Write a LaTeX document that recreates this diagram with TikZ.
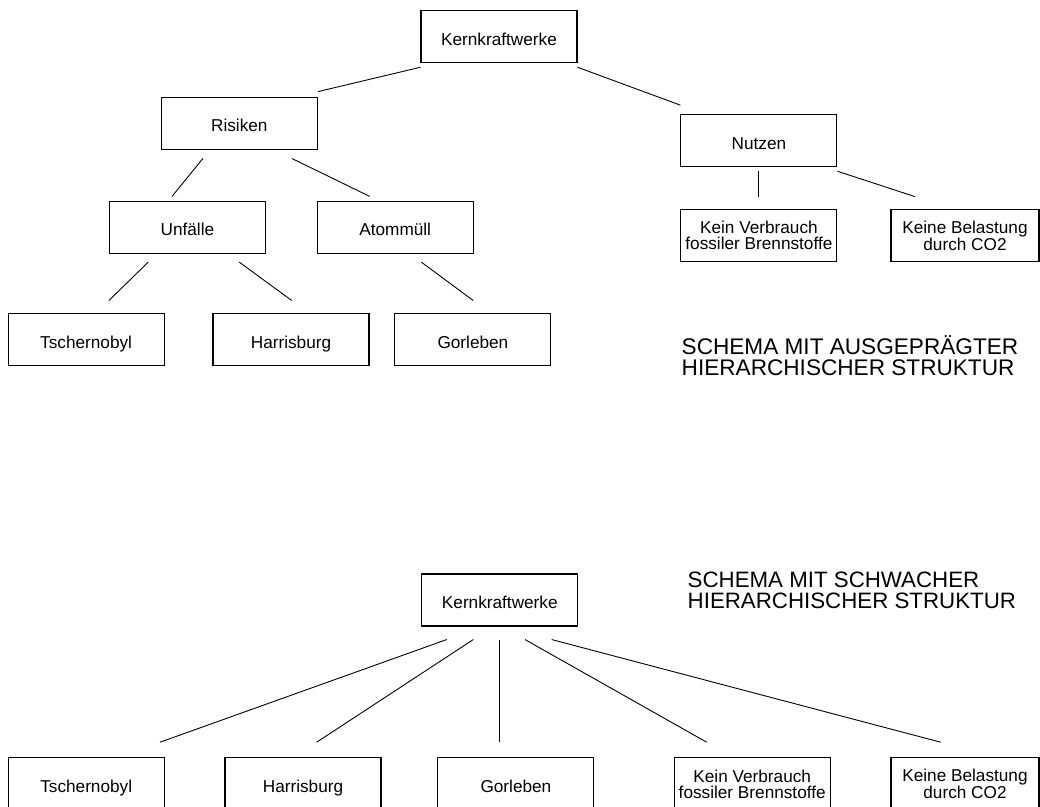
\documentclass[tikz,border=0pt]{standalone}
\usepackage{fontspec}
\setmainfont{Liberation Sans}
\usetikzlibrary{calc}
\newcommand\boxfont{\fontsize{17.2bp}{16bp}\selectfont}
\newcommand\titlefonta{\fontsize{22.6bp}{20.7bp}\selectfont}
\newcommand\titlefontb{\fontsize{22.3bp}{20.7bp}\selectfont}
\begin{document}
\begin{tikzpicture}[x=1bp,y=-1bp,
  box/.style={draw=black, line width=1.1bp, minimum width=156bp, minimum height=52bp,
              inner sep=0pt, font=\boxfont, align=center},
  one/.style={text height=18bp, text depth=0.5bp},
  narrow/.style={minimum width=148bp},
  conn/.style={line width=0.9bp},
  title/.style={anchor=base west, align=left, inner sep=0pt}]
\useasboundingbox (0,0) rectangle (1040,807);
\fill[white] (0,0) rectangle (1040,807);

% ---------- upper schema ----------
\node[box,one] (k1)   at (499,36.3)    {Kernkraftwerke};
\node[box,one] (ris)  at (239.3,123.2) {Risiken};
\node[box,one] (nut)  at (758.9,140.3) {Nutzen};
\node[box,one] (unf)  at (187.4,227.2) {Unfälle};
\node[box,one] (atm)  at (395.2,227.2) {Atommüll};
\node[box]     (kv1)  at (758.9,235.8) {Kein Verbrauch\\fossiler Brennstoffe};
\node[box,narrow] (kb1) at (965,235.8) {Keine Belastung\\durch CO2};
\node[box,one] (tsc1) at (86.1,339.7)  {Tschernobyl};
\node[box,one] (har1) at (291,339.7)   {Harrisburg};
\node[box,one] (gor1) at (472.9,339.7) {Gorleben};

\draw[conn] ($(k1.south west)+(0,4.4)$) -- ($(ris.north east)+(0,-5)$);
\draw[conn] ($(k1.south east)+(0,4.4)$) -- ($(nut.north west)+(0,-8.6)$);
\draw[conn] ($(ris.south)+(-36.4,8.7)$) -- ($(unf.north)+(-15.3,-4.3)$);
\draw[conn] ($(ris.south)+(52.5,8.7)$) -- ($(atm.north)+(-25.6,-4.3)$);
\draw[conn] ($(unf.south)+(-39.2,8.4)$) -- ($(tsc1.north)+(22.8,-12.6)$);
\draw[conn] ($(unf.south)+(51.9,8.4)$) -- ($(har1.north)+(0.8,-12.6)$);
\draw[conn] ($(atm.south)+(26.2,8.4)$) -- ($(gor1.north)+(0.3,-12.6)$);
\draw[conn] ($(nut.south)+(-0.6,3.7)$) -- ($(kv1.north)+(-0.6,-12.6)$);
\draw[conn] ($(nut.south east)+(0,4.4)$) -- ($(kb1.north)+(-50,-12.6)$);

\node[title, font=\titlefonta] (t1) at (681.5,375)
  {SCHEMA MIT AUSGEPRÄGTER\\HIERARCHISCHER STRUKTUR};

% ---------- lower schema ----------
\node[title, font=\titlefontb] (t2) at (687.5,608.3)
  {SCHEMA MIT SCHWACHER\\HIERARCHISCHER STRUKTUR};

\node[box,one] (k2)   at (499.8,600)   {Kernkraftwerke};
\node[box,one,minimum height=52.3bp] (tsc2) at (86.2,783.9)  {Tschernobyl};
\node[box,one,minimum height=52.3bp] (har2) at (303,783.9)   {Harrisburg};
\node[box,one,minimum height=52.3bp] (gor2) at (515.9,783.9) {Gorleben};
\node[box,minimum height=52.3bp] (kv2) at (752.2,783.9) {Kein Verbrauch\\fossiler Brennstoffe};
\node[box,narrow,minimum height=52.3bp] (kb2) at (965,783.9) {Keine Belastung\\durch CO2};

\draw[conn] ($(k2.south)+(-53.1,13)$) -- ($(tsc2.north)+(73.8,-15)$);
\draw[conn] ($(k2.south)+(-26.5,13)$) -- ($(har2.north)+(13.7,-15)$);
\draw[conn] ($(k2.south)+(-0.8,13)$)  -- ($(gor2.north)+(-16.9,-15)$);
\draw[conn] ($(k2.south)+(25.2,13)$)  -- ($(kv2.north)+(-45.5,-15)$);
\draw[conn] ($(k2.south)+(51.9,13)$)  -- ($(kb2.north)+(-24.3,-15)$);
\end{tikzpicture}
\end{document}
